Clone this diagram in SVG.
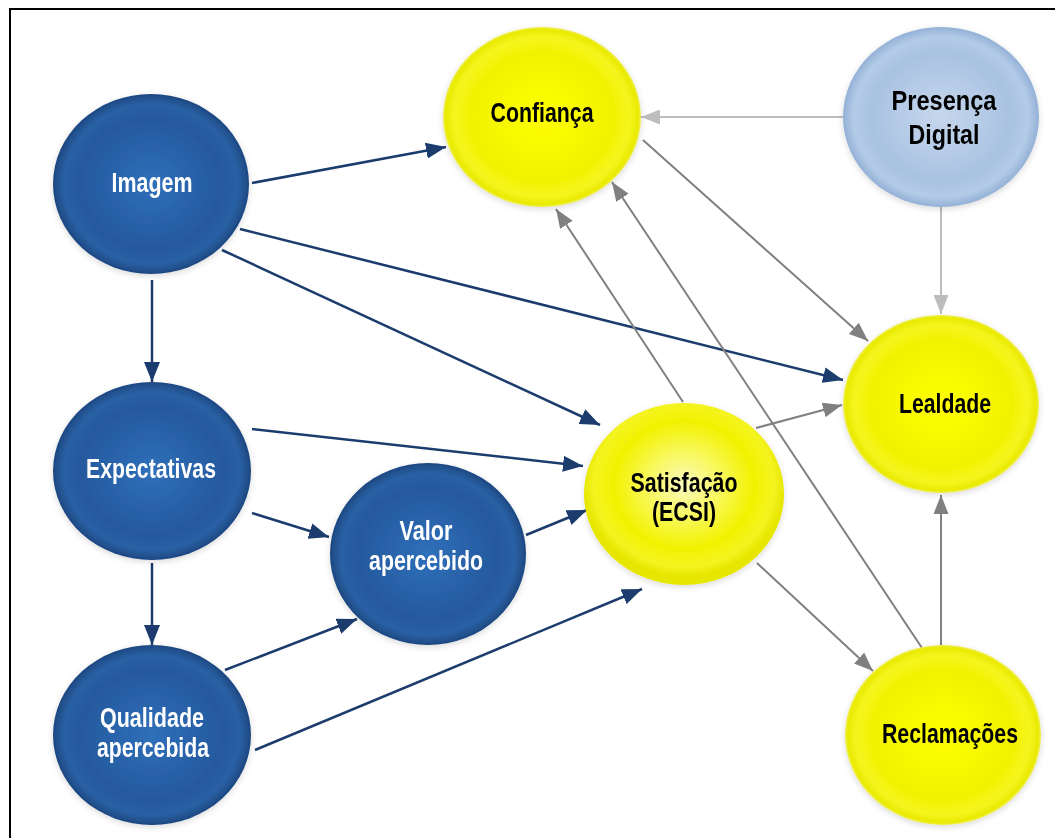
<svg xmlns="http://www.w3.org/2000/svg" width="1055" height="838" viewBox="0 0 1055 838">
<style>
.t{font-family:"Liberation Sans Narrow","Liberation Sans",Arial,sans-serif;font-size:28px;font-weight:bold;text-anchor:middle}
.w{fill:#ffffff}
.b{fill:#000000}
.nv{stroke:#1b3c6c;stroke-width:2.5;fill:none;marker-end:url(#aN)}
.gr{stroke:#808080;stroke-width:2;fill:none;marker-end:url(#aG)}
.lg{stroke:#bdbdbd;stroke-width:2;fill:none;marker-end:url(#aL)}
</style>
<defs>
<marker id="aN" markerUnits="userSpaceOnUse" markerWidth="20" markerHeight="16" refX="20" refY="8" orient="auto"><path d="M0,0 L20,8 L0,16 z" fill="#1b3c6c"/></marker>
<marker id="aG" markerUnits="userSpaceOnUse" markerWidth="19" markerHeight="15" refX="19" refY="7.5" orient="auto"><path d="M0,0 L19,7.5 L0,15 z" fill="#808080"/></marker>
<marker id="aL" markerUnits="userSpaceOnUse" markerWidth="19" markerHeight="15" refX="19" refY="7.5" orient="auto"><path d="M0,0 L19,7.5 L0,15 z" fill="#bdbdbd"/></marker>
<radialGradient id="gB" cx="0.5" cy="0.5" r="0.5">
<stop offset="0" stop-color="#2f70ba"/>
<stop offset="0.72" stop-color="#25599d"/>
<stop offset="0.89" stop-color="#2960a4"/>
<stop offset="0.96" stop-color="#22528e"/>
<stop offset="1" stop-color="#1c4680"/>
</radialGradient>
<radialGradient id="gY" cx="0.5" cy="0.5" r="0.5">
<stop offset="0" stop-color="#ffff00"/>
<stop offset="0.72" stop-color="#f2f200"/>
<stop offset="0.89" stop-color="#f5f520"/>
<stop offset="0.97" stop-color="#eaea00"/>
<stop offset="1" stop-color="#eeee50"/>
</radialGradient>
<radialGradient id="gS" cx="0.5" cy="0.45" r="0.5">
<stop offset="0" stop-color="#fafac0"/>
<stop offset="0.35" stop-color="#f8f860"/>
<stop offset="0.7" stop-color="#f2f200"/>
<stop offset="0.9" stop-color="#f4f420"/>
<stop offset="1" stop-color="#e6e600"/>
</radialGradient>
<radialGradient id="gP" cx="0.5" cy="0.5" r="0.5">
<stop offset="0" stop-color="#c6d7ec"/>
<stop offset="0.72" stop-color="#a9c2e2"/>
<stop offset="0.89" stop-color="#b4cbe8"/>
<stop offset="1" stop-color="#93b1d6"/>
</radialGradient>
<filter id="sh" x="-20%" y="-20%" width="140%" height="140%">
<feDropShadow dx="0" dy="2" stdDeviation="3" flood-color="#000" flood-opacity="0.15"/>
</filter>
</defs>
<rect x="10" y="9" width="1100" height="900" fill="#ffffff" stroke="#000000" stroke-width="2"/>
<g id="connectors">
<line class="nv" x1="252" y1="183" x2="446" y2="147"/>
<line class="nv" x1="240" y1="229" x2="843" y2="380"/>
<line class="nv" x1="222" y1="250" x2="600" y2="425"/>
<line class="nv" x1="152" y1="280" x2="152" y2="382"/>
<line class="nv" x1="252" y1="429" x2="583" y2="466"/>
<line class="nv" x1="252" y1="513" x2="329" y2="537"/>
<line class="nv" x1="152" y1="563" x2="152" y2="645"/>
<line class="nv" x1="526" y1="535" x2="587" y2="510"/>
<line class="nv" x1="225" y1="670" x2="357" y2="619"/>
<line class="nv" x1="255" y1="750" x2="642" y2="589"/>
<line class="gr" x1="683" y1="402" x2="556" y2="209"/>
<line class="gr" x1="922" y1="648" x2="612" y2="182"/>
<line class="gr" x1="643" y1="140" x2="868" y2="341"/>
<line class="gr" x1="756" y1="428" x2="842" y2="405"/>
<line class="gr" x1="757" y1="563" x2="873" y2="671"/>
<line class="gr" x1="941" y1="645" x2="941" y2="495"/>
<line class="lg" x1="843" y1="117" x2="641" y2="117"/>
<line class="lg" x1="941" y1="207" x2="941" y2="314"/>
</g>
<g id="imagem" filter="url(#sh)">
<ellipse cx="151" cy="184" rx="98" ry="90" fill="url(#gB)"/>
<text class="t w" x="152" y="192" textLength="81" lengthAdjust="spacingAndGlyphs">Imagem</text>
</g>
<g id="expectativas" filter="url(#sh)">
<ellipse cx="152" cy="471" rx="99" ry="89" fill="url(#gB)"/>
<text class="t w" x="151" y="478" textLength="130" lengthAdjust="spacingAndGlyphs">Expectativas</text>
</g>
<g id="qualidade" filter="url(#sh)">
<ellipse cx="152" cy="735" rx="99" ry="90" fill="url(#gB)"/>
<text class="t w" x="152" y="727" textLength="104" lengthAdjust="spacingAndGlyphs">Qualidade</text>
<text class="t w" x="153" y="757" textLength="112" lengthAdjust="spacingAndGlyphs">apercebida</text>
</g>
<g id="valor" filter="url(#sh)">
<ellipse cx="428" cy="554" rx="98" ry="91" fill="url(#gB)"/>
<text class="t w" x="426" y="540" textLength="53" lengthAdjust="spacingAndGlyphs">Valor</text>
<text class="t w" x="426" y="570" textLength="114" lengthAdjust="spacingAndGlyphs">apercebido</text>
</g>
<g id="confianca" filter="url(#sh)">
<ellipse cx="542" cy="117" rx="99" ry="90" fill="url(#gY)"/>
<text class="t b" x="542" y="122" textLength="103" lengthAdjust="spacingAndGlyphs">Confiança</text>
</g>
<g id="presenca" filter="url(#sh)">
<ellipse cx="941" cy="117" rx="98" ry="90" fill="url(#gP)"/>
<text class="t b" x="944" y="110" textLength="105" lengthAdjust="spacingAndGlyphs">Presença</text>
<text class="t b" x="944" y="144" textLength="71" lengthAdjust="spacingAndGlyphs">Digital</text>
</g>
<g id="satisfacao" filter="url(#sh)">
<ellipse cx="684" cy="494" rx="100" ry="91" fill="url(#gS)"/>
<text class="t b" x="684" y="492" textLength="107" lengthAdjust="spacingAndGlyphs">Satisfação</text>
<text class="t b" x="684" y="521" textLength="64" lengthAdjust="spacingAndGlyphs">(ECSI)</text>
</g>
<g id="lealdade" filter="url(#sh)">
<ellipse cx="941" cy="404" rx="98" ry="89" fill="url(#gY)"/>
<text class="t b" x="945" y="413" textLength="92" lengthAdjust="spacingAndGlyphs">Lealdade</text>
</g>
<g id="reclamacoes" filter="url(#sh)">
<ellipse cx="943" cy="735" rx="98" ry="90" fill="url(#gY)"/>
<text class="t b" x="950" y="743" textLength="136" lengthAdjust="spacingAndGlyphs">Reclamações</text>
</g>
</svg>
